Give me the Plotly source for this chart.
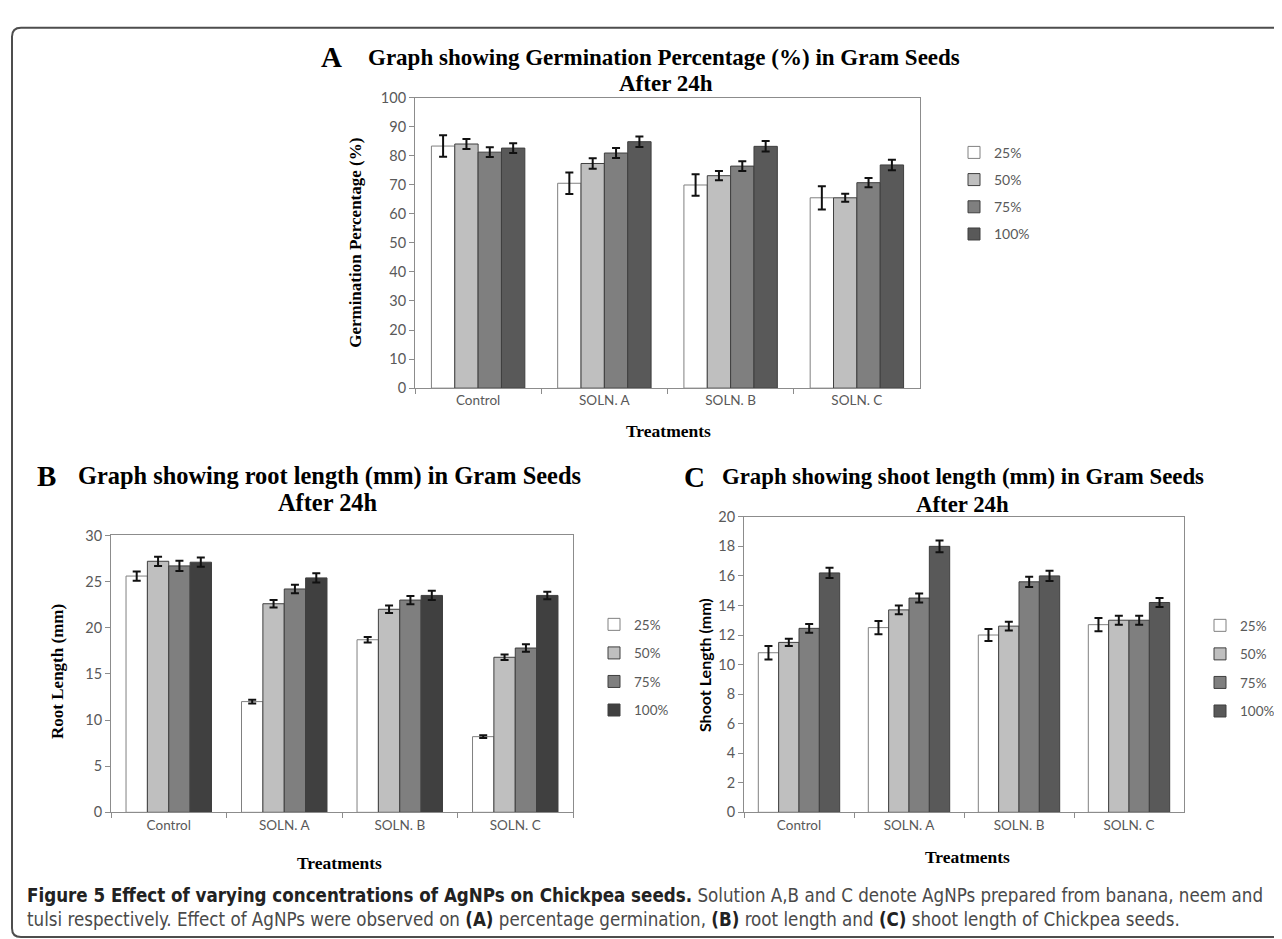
import plotly.graph_objects as go

# ---------------- data ----------------
categories = ["Control", "SOLN. A", "SOLN. B", "SOLN. C"]
concentrations = ["25%", "50%", "75%", "100%"]

# Panel A: germination percentage (%)
germ_25 = [83.3, 70.5, 69.9, 65.5]
germ_50 = [84.0, 77.3, 73.1, 65.5]
germ_75 = [81.2, 80.9, 76.4, 70.7]
germ_100 = [82.6, 84.8, 83.2, 76.8]
germ_err_25 = [3.7, 3.7, 3.7, 4.0]
germ_err_50 = [1.7, 1.8, 1.6, 1.4]
germ_err_75 = [1.7, 1.7, 1.7, 1.6]
germ_err_100 = [1.7, 1.8, 1.8, 1.8]

# Panel B: root length (mm)
root_25 = [25.6, 12.0, 18.7, 8.2]
root_50 = [27.2, 22.6, 22.0, 16.8]
root_75 = [26.7, 24.2, 23.0, 17.8]
root_100 = [27.1, 25.4, 23.5, 23.5]
root_err_25 = [0.5, 0.2, 0.3, 0.15]
root_err_50 = [0.5, 0.4, 0.4, 0.3]
root_err_75 = [0.55, 0.45, 0.45, 0.4]
root_err_100 = [0.5, 0.5, 0.5, 0.4]

# Panel C: shoot length (mm)
shoot_25 = [10.8, 12.5, 12.0, 12.7]
shoot_50 = [11.5, 13.7, 12.6, 13.0]
shoot_75 = [12.45, 14.5, 15.6, 13.0]
shoot_100 = [16.2, 18.0, 16.0, 14.2]
shoot_err_25 = [0.45, 0.45, 0.4, 0.45]
shoot_err_50 = [0.25, 0.3, 0.3, 0.3]
shoot_err_75 = [0.3, 0.3, 0.35, 0.3]
shoot_err_100 = [0.35, 0.4, 0.35, 0.3]

# ---------------- layout helpers ----------------
W, H = 1282, 939


def px_x(x):
    return x / W


def px_y(y):
    return 1 - y / H


SANS = "Lato, Carlito, 'Open Sans', sans-serif"
SERIF = "'Liberation Serif', 'Times New Roman', serif"
TICK_COLOR = "#595959"
AXIS_COLOR = "#8c8c8c"

panels = [
    dict(
        name="A", xa="x", ya="y", legend="legend",
        values=[germ_25, germ_50, germ_75, germ_100],
        errors=[germ_err_25, germ_err_50, germ_err_75, germ_err_100],
        colors=["#FFFFFF", "#BFBFBF", "#7F7F7F", "#595959"],
    ),
    dict(
        name="B", xa="x2", ya="y2", legend="legend2",
        values=[root_25, root_50, root_75, root_100],
        errors=[root_err_25, root_err_50, root_err_75, root_err_100],
        colors=["#FFFFFF", "#BFBFBF", "#7F7F7F", "#404040"],
    ),
    dict(
        name="C", xa="x3", ya="y3", legend="legend3",
        values=[shoot_25, shoot_50, shoot_75, shoot_100],
        errors=[shoot_err_25, shoot_err_50, shoot_err_75, shoot_err_100],
        colors=["#FFFFFF", "#BFBFBF", "#7F7F7F", "#595959"],
    ),
]

fig = go.Figure()
for p in panels:
    for i, conc in enumerate(concentrations):
        fig.add_trace(
            go.Bar(
                x=categories,
                y=p["values"][i],
                name=conc,
                xaxis=p["xa"],
                yaxis=p["ya"],
                legend=p["legend"],
                legendgroup=p["name"] + conc,
                marker=dict(
                    color=p["colors"][i],
                    line=dict(color="#808080" if i == 0 else "#3f3f3f", width=1),
                ),
                error_y=dict(
                    type="data",
                    array=p["errors"][i],
                    visible=True,
                    color="#111111",
                    thickness=2,
                    width=4,
                ),
            )
        )


def xaxis_style(domain):
    return dict(
        domain=domain,
        type="category",
        showline=True,
        linecolor=AXIS_COLOR,
        linewidth=1,
        mirror=True,
        ticks="outside",
        tickson="boundaries",
        ticklen=5,
        tickcolor=AXIS_COLOR,
        tickfont=dict(family=SANS, size=13.5, color=TICK_COLOR),
        showgrid=False,
        zeroline=False,
        fixedrange=True,
    )


def yaxis_style(domain, rng, dtick, anchor):
    return dict(
        domain=domain,
        range=rng,
        dtick=dtick,
        anchor=anchor,
        showline=True,
        linecolor=AXIS_COLOR,
        linewidth=1,
        mirror=True,
        ticks="outside",
        ticklen=5,
        tickcolor=AXIS_COLOR,
        tickfont=dict(family=SANS, size=14.5, color=TICK_COLOR),
        showgrid=False,
        zeroline=False,
        fixedrange=True,
    )


# plot-area pixel boxes (left, right, top, bottom)
boxA = (407, 912, 82, 378)
boxB = (103, 565, 528, 810)
boxC = (736, 1176, 509, 810)

fig.update_layout(
    width=W,
    height=H,
    autosize=False,
    margin=dict(l=0, r=0, t=0, b=0),
    paper_bgcolor="white",
    plot_bgcolor="white",
    barmode="group",
    bargap=0.26,
    bargroupgap=0.0,
    xaxis=dict(xaxis_style([px_x(boxA[0]), px_x(boxA[1])]), anchor="y"),
    yaxis=yaxis_style([px_y(boxA[3]), px_y(boxA[2])], [0, 100], 10, "x"),
    xaxis2=dict(xaxis_style([px_x(boxB[0]), px_x(boxB[1])]), anchor="y2"),
    yaxis2=yaxis_style([px_y(boxB[3]), px_y(boxB[2])], [0, 30], 5, "x2"),
    xaxis3=dict(xaxis_style([px_x(boxC[0]), px_x(boxC[1])]), anchor="y3"),
    yaxis3=yaxis_style([px_y(boxC[3]), px_y(boxC[2])], [0, 20], 2, "x3"),
    showlegend=True,
)

legend_common = dict(
    xanchor="left",
    yanchor="top",
    bgcolor="rgba(0,0,0,0)",
    borderwidth=0,
    itemclick=False,
    itemdoubleclick=False,
)
fig.update_layout(
    legend=dict(legend_common, x=px_x(946), y=px_y(122), tracegroupgap=6,
                font=dict(family=SANS, size=14, color=TICK_COLOR)),
    legend2=dict(legend_common, x=px_x(586), y=px_y(603), tracegroupgap=8,
                 font=dict(family=SANS, size=13.5, color=TICK_COLOR)),
    legend3=dict(legend_common, x=px_x(1192), y=px_y(604), tracegroupgap=8,
                 font=dict(family=SANS, size=13.5, color=TICK_COLOR)),
)

annotations = []


def ann(text, x, y, size, family=SERIF, color="black", xanchor="center", textangle=0):
    annotations.append(
        dict(
            text=text,
            x=px_x(x),
            y=px_y(y),
            xref="paper",
            yref="paper",
            xanchor=xanchor,
            yanchor="middle",
            showarrow=False,
            textangle=textangle,
            font=dict(family=family, size=size, color=color),
        )
    )


# Panel titles
ann("<b>A</b>", 323, 41, 29)
ann("<b>Graph showing Germination Percentage (%) in Gram Seeds</b>", 656, 41, 23)
ann("<b>After 24h</b>", 658, 68, 23)
ann("<b>B</b>", 38, 467, 29)
ann("<b>Graph showing root length (mm) in Gram Seeds</b>", 321, 467, 24.4)
ann("<b>After 24h</b>", 320, 494, 24.4)
ann("<b>C</b>", 686, 468, 29)
ann("<b>Graph showing shoot length (mm) in Gram Seeds</b>", 955, 468, 22.8)
ann("<b>After 24h</b>", 954, 496, 22.8)

# Axis titles
ann("<b>Germination Percentage (%)</b>", 348, 230, 17, textangle=-90)
ann("<b>Treatments</b>", 660, 422, 17.5)
ann("<b>Root Length (mm)</b>", 50, 667, 17, textangle=-90)
ann("<b>Treatments</b>", 331, 862, 17.5)
ann("<b>Shoot Length (mm)</b>", 696, 660, 16, family=SANS, textangle=-90)
ann("<b>Treatments</b>", 959, 855, 17.5)

# Caption
CAP = "'Liberation Sans Narrow', 'DejaVu Sans Condensed', Roboto, sans-serif"
annotations.append(
    dict(
        text="<span style='color:#222222'><b>Figure 5 Effect of varying concentrations of AgNPs on Chickpea seeds.</b></span>"
        " Solution A,B and C denote AgNPs prepared from banana, neem and",
        x=px_x(17), y=px_y(895), xref="paper", yref="paper",
        xanchor="left", yanchor="middle", showarrow=False,
        font=dict(family=CAP, size=18.6, color="#4a4a4a"),
    )
)
annotations.append(
    dict(
        text="tulsi respectively. Effect of AgNPs were observed on <span style='color:#222222'><b>(A)</b></span>"
        " percentage germination, <span style='color:#222222'><b>(B)</b></span> root length and "
        "<span style='color:#222222'><b>(C)</b></span> shoot length of Chickpea seeds.",
        x=px_x(17), y=px_y(919), xref="paper", yref="paper",
        xanchor="left", yanchor="middle", showarrow=False,
        font=dict(family=CAP, size=18.6, color="#4a4a4a"),
    )
)
fig.update_layout(annotations=annotations)

# Figure frame (rounded left corners)
r = 9
x0, yt, yb, xr = 4, 11, 937, 1300
path = (
    f"M {px_x(xr)},{px_y(yt)} L {px_x(x0 + r)},{px_y(yt)} "
    f"Q {px_x(x0)},{px_y(yt)} {px_x(x0)},{px_y(yt + r)} "
    f"L {px_x(x0)},{px_y(yb - r)} "
    f"Q {px_x(x0)},{px_y(yb)} {px_x(x0 + r)},{px_y(yb)} "
    f"L {px_x(xr)},{px_y(yb)}"
)
fig.add_shape(type="path", path=path, xref="paper", yref="paper",
              line=dict(color="#4d4d4d", width=2), layer="above")

fig.write_html("out.html")
